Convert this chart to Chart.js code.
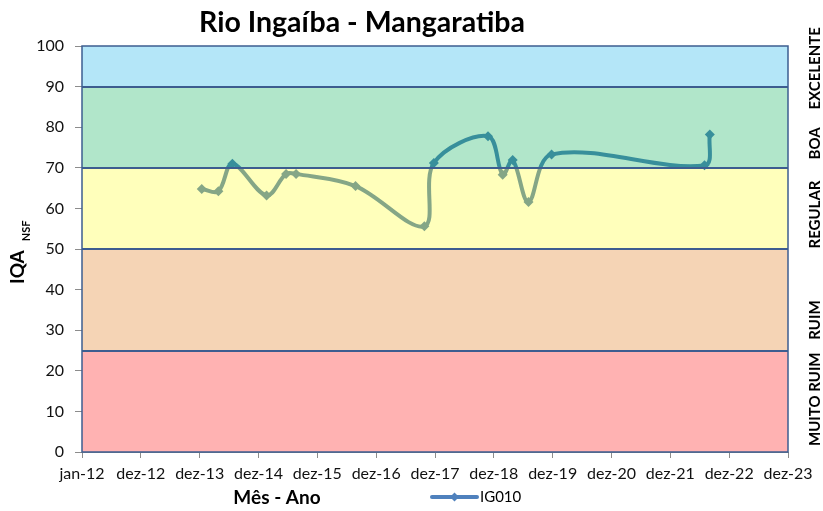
<!DOCTYPE html>
<html>
<head>
<meta charset="utf-8">
<script src="https://cdn.jsdelivr.net/npm/chart.js@4.4.1/dist/chart.umd.min.js"></script>
<style>
  html, body { margin: 0; padding: 0; background: #fff; }
  #wrap { width: 823px; height: 511px; }
</style>
</head>
<body>
<div id="wrap"><canvas id="iqa"></canvas></div>
<script>
// dados da estacao IG010
const sampleDates = ['2014-01-13', '2014-04-26', '2014-07-22', '2015-02-19', '2015-06-20', '2015-08-21',
                     '2016-08-24', '2017-10-25', '2017-12-23', '2018-11-24', '2019-02-23', '2019-04-26',
                     '2019-08-02', '2019-12-23', '2022-07-29', '2022-08-31'];
const iqaValues = [64.8, 64.2, 71.0, 63.2, 68.5, 68.5, 65.5, 55.6, 71.2, 77.8, 68.3, 71.9, 61.6, 73.3, 70.6, 78.2];
const tickLabels = ['jan-12', 'dez-12', 'dez-13', 'dez-14', 'dez-15', 'dez-16', 'dez-17',
                    'dez-18', 'dez-19', 'dez-20', 'dez-21', 'dez-22', 'dez-23'];
const bandLimits = [0, 25, 50, 70, 90, 100];
const bandNames = ['MUITO RUIM', 'RUIM', 'REGULAR', 'BOA', 'EXCELENTE'];
const bandLabelAt = [13, 32.5, 58.5, 76, 94.5];
const bandColors = ['#ffb2b2', '#f5d4b5', '#ffffbb', '#b1e6ca', '#b4e6f8'];

const teal = '#388f9b';
const sage = '#85a686';
const dayStep = 365;

function dayNumber(s) {
    const p = s.split('-');
    return (Date.UTC(+p[0], +p[1] - 1, +p[2]) - Date.UTC(2012, 0, 1)) / 86400000;
}

function lineGradient(chart) {
    const y = chart.scales.y;
    if (!chart.chartArea || !y) return teal;
    const top = y.getPixelForValue(100);
    const bot = y.getPixelForValue(0);
    const f = (y.getPixelForValue(70) - top) / (bot - top);
    const g = chart.ctx.createLinearGradient(0, top, 0, bot);
    g.addColorStop(0, teal);
    g.addColorStop(f, teal);
    g.addColorStop(f, sage);
    g.addColorStop(1, sage);
    return g;
}

const bandsPlugin = {
    id: 'bands',
    beforeDatasetsDraw(chart) {
        const { ctx, chartArea: a, scales: { y } } = chart;
        ctx.save();
        for (let i = 0; i < bandColors.length; i++) {
            const top = y.getPixelForValue(bandLimits[i + 1]);
            const bot = y.getPixelForValue(bandLimits[i]);
            ctx.fillStyle = bandColors[i];
            ctx.fillRect(a.left, top, a.right - a.left, bot - top);
        }
        ctx.restore();
    },
    afterDatasetsDraw(chart) {
        const { ctx, chartArea: a, scales: { y } } = chart;
        ctx.save();
        ctx.strokeStyle = '#3d5d90';
        ctx.lineWidth = 2;
        for (let i = 1; i < bandLimits.length - 1; i++) {
            const py = Math.round(y.getPixelForValue(bandLimits[i]));
            ctx.beginPath();
            ctx.moveTo(a.left, py);
            ctx.lineTo(a.right, py);
            ctx.stroke();
        }
        ctx.lineWidth = 1.5;
        ctx.strokeRect(a.left, a.top, a.right - a.left, a.bottom - a.top);
        ctx.restore();
    },
    afterDraw(chart) {
        const { ctx, scales: { y } } = chart;
        ctx.save();
        ctx.fillStyle = '#000';
        ctx.textBaseline = 'middle';

        // titulo
        ctx.textAlign = 'center';
        ctx.font = 'bold 28.5px Lato';
        ctx.fillText('Rio Ingaíba - Mangaratiba', 362, 23);

        // titulo eixo x
        ctx.font = 'bold 19px Lato';
        ctx.fillText('Mês - Ano', 277, 498);

        // titulo eixo y com subscrito
        ctx.save();
        ctx.translate(18, 284);
        ctx.rotate(-Math.PI / 2);
        ctx.textAlign = 'left';
        ctx.font = 'bold 19px Lato';
        ctx.fillText('IQA', 0, 0);
        const w = ctx.measureText('IQA').width;
        ctx.font = 'bold 11px Lato';
        ctx.fillText('NSF', w + 9, 8);
        ctx.restore();

        // nomes das faixas
        ctx.font = 'bold 15px Lato';
        ctx.textAlign = 'center';
        bandNames.forEach((name, i) => {
            ctx.save();
            ctx.translate(815, y.getPixelForValue(bandLabelAt[i]));
            ctx.rotate(-Math.PI / 2);
            ctx.fillText(name, 0, 0);
            ctx.restore();
        });

        // legenda
        ctx.strokeStyle = '#4f81bd';
        ctx.lineWidth = 4;
        ctx.lineCap = 'round';
        ctx.beginPath();
        ctx.moveTo(432, 497);
        ctx.lineTo(477, 497);
        ctx.stroke();
        ctx.fillStyle = '#4f81bd';
        ctx.beginPath();
        ctx.moveTo(454.5, 492.5);
        ctx.lineTo(459, 497);
        ctx.lineTo(454.5, 501.5);
        ctx.lineTo(450, 497);
        ctx.closePath();
        ctx.fill();
        ctx.fillStyle = '#000';
        ctx.textAlign = 'left';
        ctx.font = '15px Lato';
        ctx.fillText('IG010', 480, 497);
        ctx.restore();
    }
};

const points = sampleDates.map((d, i) => ({ x: dayNumber(d), y: iqaValues[i] }));

new Chart(document.getElementById('iqa'), {
    type: 'line',
    data: {
        datasets: [{
            label: 'IG010',
            data: points,
            borderColor: ctx => lineGradient(ctx.chart),
            borderWidth: 4,
            tension: 0.35,
            pointStyle: 'rectRot',
            pointRadius: 5,
            pointBorderWidth: 0,
            pointBackgroundColor: ctx => (ctx.raw && ctx.raw.y >= 70) ? teal : sage,
            pointBorderColor: ctx => (ctx.raw && ctx.raw.y >= 70) ? teal : sage
        }]
    },
    plugins: [bandsPlugin],
    options: {
        responsive: true,
        maintainAspectRatio: false,
        animation: false,
        layout: { padding: { top: 46, right: 35, left: 0, bottom: 0 } },
        plugins: {
            legend: { display: false },
            title: { display: false },
            tooltip: { enabled: false }
        },
        scales: {
            x: {
                type: 'linear',
                min: 0,
                max: dayStep * (tickLabels.length - 1),
                afterBuildTicks: s => { s.ticks = tickLabels.map((_, i) => ({ value: i * dayStep })); },
                afterFit: s => { s.height = 59; },
                ticks: {
                    autoSkip: false,
                    maxRotation: 0,
                    padding: 6,
                    color: '#111',
                    font: { family: 'Lato', size: 16 },
                    callback: (v, i) => tickLabels[i]
                },
                grid: { drawOnChartArea: false, tickLength: 6, color: '#8c8c8c' },
                border: { color: '#8c8c8c' }
            },
            y: {
                min: 0,
                max: 100,
                afterFit: s => { s.width = 82; },
                ticks: {
                    stepSize: 10,
                    padding: 11,
                    color: '#111',
                    font: { family: 'Lato', size: 16 }
                },
                grid: { drawOnChartArea: false, tickLength: 7, color: '#8c8c8c' },
                border: { color: '#8c8c8c' }
            }
        }
    }
});
</script>
</body>
</html>
